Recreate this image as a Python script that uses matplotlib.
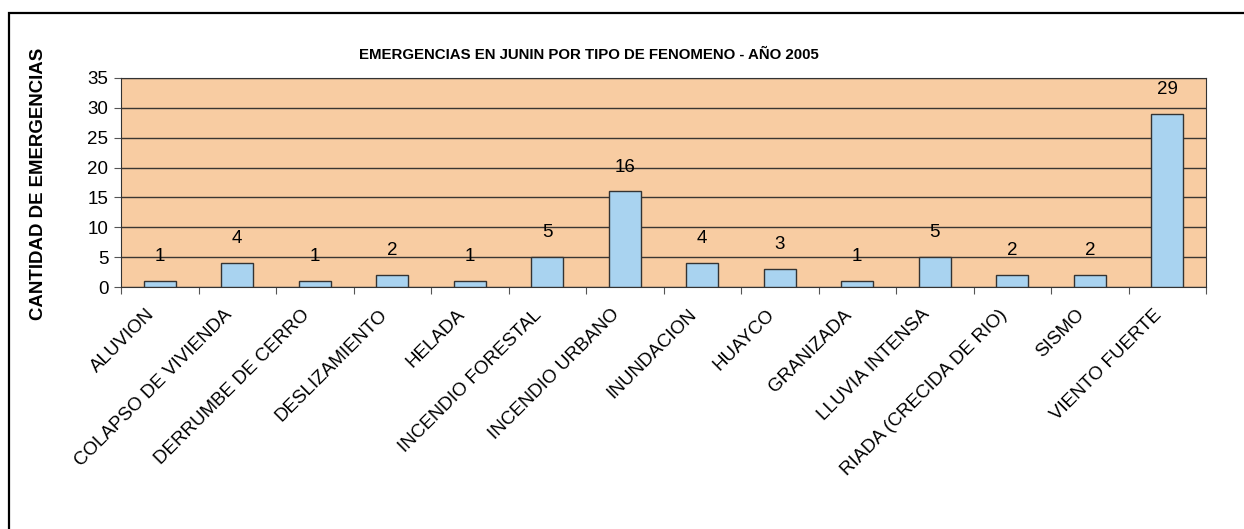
import matplotlib.pyplot as plt
import numpy as np
from matplotlib.patches import Rectangle

#####################################################################
# data
categorias = ['ALUVION', 'COLAPSO DE VIVIENDA', 'DERRUMBE DE CERRO', 'DESLIZAMIENTO',
              'HELADA', 'INCENDIO FORESTAL', 'INCENDIO URBANO', 'INUNDACION',
              'HUAYCO', 'GRANIZADA', 'LLUVIA INTENSA', 'RIADA (CRECIDA DE RIO)',
              'SISMO', 'VIENTO FUERTE']
emergencias = [1, 4, 1, 2, 1, 5, 16, 4, 3, 1, 5, 2, 2, 29]
yticks = [0, 5, 10, 15, 20, 25, 30, 35]

titulo = 'EMERGENCIAS EN JUNIN POR TIPO DE FENOMENO - AÑO 2005'
ylabel = 'CANTIDAD DE EMERGENCIAS'

plt.rcParams['font.family'] = ['Liberation Sans', 'DejaVu Sans']

#####################################################################
# figure
fig = plt.figure(figsize=(12.44, 5.29), dpi=100)
ax = fig.add_axes([121/1244, 1 - 287/529, (1206 - 121)/1244, (287 - 78)/529])

x = np.arange(len(categorias))
ax.bar(x, emergencias, width=0.41, color='#A9D3F0', edgecolor='#333333', linewidth=1, zorder=3)

# value labels
for xi, v in zip(x, emergencias):
    ax.annotate(str(v), (xi, v), xytext=(0, 17.5), textcoords='offset points',
                ha='center', va='center', fontsize=13.5, zorder=4)

ax.set_xlim(-0.5, len(categorias) - 0.5)
ax.set_ylim(0, 35)
ax.set_yticks(yticks)
ax.set_facecolor('#F8CCA2')
ax.grid(axis='y', color='#3a3632', linewidth=1, zorder=1)
ax.tick_params(axis='y', labelsize=13.5, length=5, color='#555555', pad=4)

# category ticks on boundaries, labels at centers
ax.set_xticks(np.arange(len(categorias) + 1) - 0.5)
ax.set_xticklabels([])
ax.tick_params(axis='x', length=5, color='#555555')
for xi, c in zip(x, categorias):
    ax.text(xi - 0.18, -3.2, c, rotation=45, ha='right', va='top', rotation_mode='anchor',
            fontsize=13.5, transform=ax.transData, clip_on=False)

for s in ['left', 'bottom', 'top', 'right']:
    ax.spines[s].set_color('#333333')

#####################################################################
# title and axis label
fig.text(589/1244, 1 - 55/529, titulo, ha='center', va='center', fontsize=10.8, fontweight='bold')
fig.text(39/1244, 1 - 184/529, ylabel, ha='center', va='center', rotation=90,
         fontsize=13.4, fontweight='bold')

# outer frame, clipped on the right and bottom
fig.patches.append(Rectangle((9/1244, -0.1), 1.2, 1 - 12.5/529 + 0.1, transform=fig.transFigure,
                             fill=False, edgecolor='black', linewidth=1.6))

fig.savefig('out.png', dpi=100, facecolor='white')
